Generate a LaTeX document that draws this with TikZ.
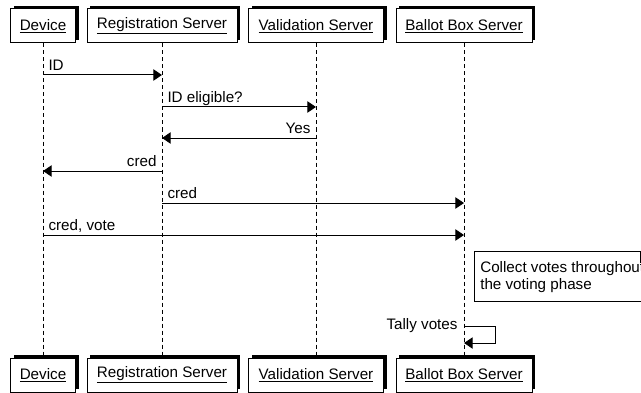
\documentclass[tikz,border=0pt]{standalone}
\usepackage{fontspec}
\setmainfont{Liberation Sans}
\usetikzlibrary{arrows.meta,shadows}

\begin{document}
\begin{tikzpicture}[x=0.75pt,y=0.75pt,yscale=-1,xscale=1,
  font=\fontsize{11.4}{12.75}\selectfont,
  actor/.style={draw, fill=white, line width=0.75pt, minimum height=25.5pt, inner sep=0pt,
    drop shadow={shadow xshift=2.25pt, shadow yshift=2.25pt, fill=black, opacity=1}},
  life/.style={line width=0.75pt, dash pattern=on 3pt off 2.25pt},
  msg/.style={line width=0.75pt, -{Triangle[length=6.5pt,width=8.5pt]}},
  lbl/.style={inner xsep=3.75pt, inner ysep=3pt, text depth=0pt}]
        \useasboundingbox (0,0) rectangle (641,392);

        % Lifeline heads
        \node [actor, minimum width=48.75pt] (dev) at (43,26) {\underline{Device}};
        \node [actor, minimum width=112.5pt] (reg) at (162,26) {\underline{Registration Server}};
        \node [actor, minimum width=101.25pt] (val) at (316,26) {\underline{Validation Server}};
        \node [actor, minimum width=102pt] (bal) at (464,26) {\underline{Ballot Box Server}};
        % Lifeline feet
        \node [actor, minimum width=48.75pt] (devb) at (43,375) {\underline{Device}};
        \node [actor, minimum width=112.5pt] (regb) at (162,375) {\underline{Registration Server}};
        \node [actor, minimum width=101.25pt] (valb) at (316,375) {\underline{Validation Server}};
        \node [actor, minimum width=102pt] (balb) at (464,375) {\underline{Ballot Box Server}};

        % Lifelines
        \draw [life] (dev) -- (devb);
        \draw [life] (reg) -- (regb);
        \draw [life] (val) -- (valb);
        \draw [life] (bal) -- (balb);

        % Message rows
        \coordinate (r1) at (0,75);
        \coordinate (r2) at (0,107);
        \coordinate (r3) at (0,138);
        \coordinate (r4) at (0,171);
        \coordinate (r5) at (0,203);
        \coordinate (r6) at (0,235);
        \coordinate (r7) at (0,326);
        \coordinate (r8) at (0,343);

        % Messages
        \draw [msg] (dev |- r1) -- (reg |- r1) node [lbl, pos=0, anchor=south west] (m1) {ID};
        \draw [msg] (reg |- r2) -- (val |- r2) node [lbl, pos=0, anchor=south west] (m2) {ID eligible?};
        \draw [msg] (val |- r3) -- (reg |- r3) node [lbl, pos=0, anchor=south east] (m3) {Yes};
        \draw [msg] (reg |- r4) -- (dev |- r4) node [lbl, pos=0, anchor=south east] (m4) {cred};
        \draw [msg] (reg |- r5) -- (bal |- r5) node [lbl, pos=0, anchor=south west] (m5) {cred};
        \draw [msg] (dev |- r6) -- (bal |- r6) node [lbl, pos=0, anchor=south west] (m6) {cred, vote};
        % Self message
        \draw [msg] (bal |- r7) node [anchor=east, inner xsep=4.5pt] (m7) {Tally votes}
          -- ++(31,0) -- ++(0,17) -- (bal |- r8);

        % Note
        \coordinate (na) at (474,251);
        \coordinate (nb) at (651,301);
        \draw [line width=0.75pt, fill=white] (na) -- (na -| 640,0) -- (640,262) -- (nb |- 0,262) -- (nb) -- (na |- nb) -- cycle;
        \draw [line width=0.75pt] (na -| 640,0) -- (640,262) -- (nb |- 0,262);
        \node [anchor=north west, inner sep=0pt, align=left] (nt) at (480,261) {Collect votes throughout\\the voting phase};

\end{tikzpicture}
\end{document}
